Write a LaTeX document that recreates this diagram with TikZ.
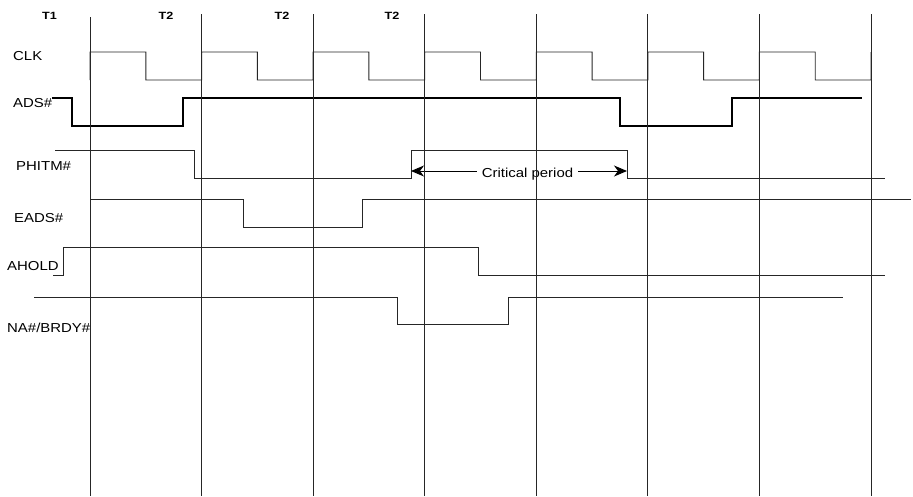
\documentclass[tikz,border=0pt]{standalone}
\usepackage{fontspec}
\setmainfont{Liberation Sans}
\newfontfamily\siglabelfont[FakeStretch=1.15]{Liberation Sans}
\newfontfamily\tlabelfont[FakeStretch=1.2]{Liberation Sans}
\usetikzlibrary{arrows.meta}
\begin{document}
\begin{tikzpicture}[
    x=1pt, y=-1pt,
    gridline/.style={draw=black!85, line width=0.8pt},
    sig/.style={draw=black!85, line width=0.9pt},
    sigthick/.style={draw=black, line width=1.8pt},
    signame/.style={anchor=base west, inner sep=0pt, font=\siglabelfont\fontsize{13}{15}\selectfont},
    tlab/.style={anchor=base, inner sep=0pt, font=\tlabelfont\fontsize{10.5}{12}\selectfont\bfseries},
    critarrow/.style={-{Stealth[length=13pt,width=11pt,inset=4pt]}, line width=0.9pt}
  ]
    \useasboundingbox (0,0) rectangle (913,496);

    % clock states
    \node[tlab] (t1) at (49.5,19) {T1};
    \node[tlab] (t2a) at (166,19) {T2};
    \node[tlab] (t2b) at (282,19) {T2};
    \node[tlab] (t2c) at (392,19) {T2};

    % signal names
    \node[signame] (clk) at (13,60) {CLK};
    \node[signame] (ads) at (13,107) {ADS\#};
    \node[signame] (phitm) at (16,170) {PHITM\#};
    \node[signame] (eads) at (14,222) {EADS\#};
    \node[signame] (ahold) at (7,270) {AHOLD};
    \node[signame] (nabrdy) at (7,332) {NA\#/BRDY\#};

    % waveforms
    \draw[sig] (90,80) foreach \i in {0,...,6} {
      -- ({90+111.57*\i},52) -- ({145.8+111.57*\i},52)
      -- ({145.8+111.57*\i},80) -- ({201.57+111.57*\i},80)} -- (871,52);
    \draw[sigthick] (52,98) -- (72,98) -- (72,126) -- (183,126) -- (183,98)
      -- (620,98) -- (620,126) -- (732,126) -- (732,98) -- (862,98);
    \draw[sig] (55,150) -- (194,150) -- (194,178) -- (411,178) -- (411,150)
      -- (627,150) -- (627,178) -- (885,178);
    \draw[sig] (90,199) -- (243,199) -- (243,227) -- (362,227) -- (362,199)
      -- (911,199);
    \draw[sig] (53,275) -- (63,275) -- (63,247) -- (478,247) -- (478,275)
      -- (885,275);
    \draw[sig] (34,297) -- (397,297) -- (397,324) -- (508,324) -- (508,297)
      -- (843,297);

    % critical period
    \coordinate (critl) at (411,171);
    \coordinate (critr) at (627,171);
    \node[anchor=base, inner xsep=5pt, font=\siglabelfont\fontsize{13}{15}\selectfont]
      (crit) at (527.5,177) {Critical period};
    \draw[critarrow] (crit.west |- critl) -- (critl);
    \draw[critarrow] (crit.east |- critr) -- (critr);

    % clock edges
    \draw[gridline] (90,17) -- (90,496);
    \foreach \i in {1,...,7}
      \draw[gridline] ({90+111.57*\i},14) -- ({90+111.57*\i},496);
  \end{tikzpicture}
\end{document}
